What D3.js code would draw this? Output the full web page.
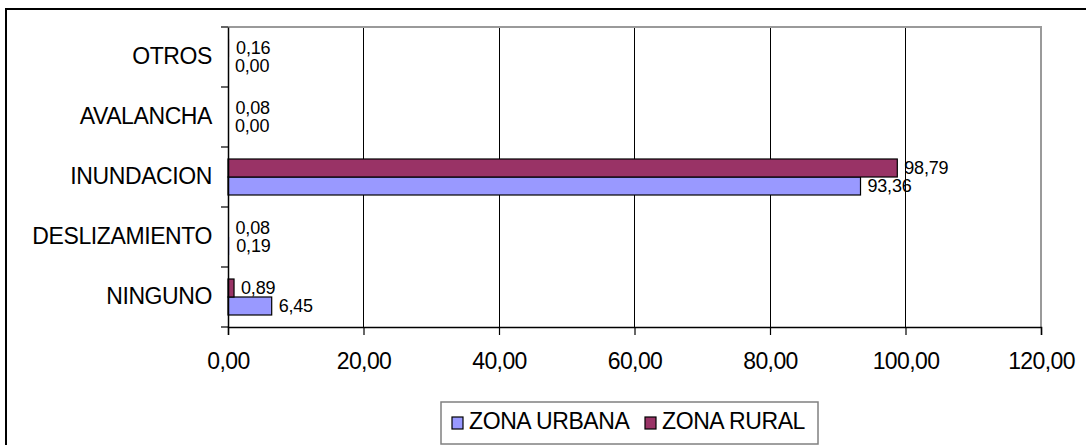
<!DOCTYPE html>
<html>
<head>
<meta charset="utf-8">
<script src="https://cdn.jsdelivr.net/npm/d3@7"></script>
<style>
  html, body { margin: 0; padding: 0; background: #fff; }
  svg { display: block; }
  text { font-family: "Liberation Sans", Arial, sans-serif; fill: #000; }
</style>
</head>
<body>
<svg id="chart" width="1086" height="445"></svg>
<script>
// ---- data ----
const categories = ["OTROS", "AVALANCHA", "INUNDACION", "DESLIZAMIENTO", "NINGUNO"];
const seriesNames = ["ZONA URBANA", "ZONA RURAL"];
const urbana = [0.00, 0.00, 93.36, 0.19, 6.45];
const rural  = [0.16, 0.08, 98.79, 0.08, 0.89];
const xTicks = [0, 20, 40, 60, 80, 100, 120];
const colors = { "ZONA URBANA": "#9999FF", "ZONA RURAL": "#993366" };

// ---- layout ----
const svg = d3.select("#chart");
const plot = { left: 228, top: 27, right: 1041, bottom: 327 };

const x = d3.scaleLinear().domain([0, 120]).range([plot.left, plot.right]);
const y = d3.scaleBand().domain(categories).range([plot.top, plot.bottom]).padding(0);
const inner = d3.scaleBand().domain(["ZONA RURAL", "ZONA URBANA"])
  .range([0, y.bandwidth()]).paddingInner(0).paddingOuter(2/3);

const fmt = v => d3.format(".2f")(v).replace(".", ",");

// outer frame
svg.append("rect").attr("x", 6).attr("y", 9).attr("width", 1200).attr("height", 600)
  .attr("fill", "none").attr("stroke", "#000").attr("stroke-width", 2);

// gridlines
svg.append("g").selectAll("line").data(xTicks.filter(t => t > 0 && t < 120)).join("line")
  .attr("x1", d => x(d)).attr("x2", d => x(d))
  .attr("y1", plot.top).attr("y2", plot.bottom)
  .attr("stroke", "#000").attr("stroke-width", 1).attr("shape-rendering", "crispEdges");

// plot border top & right (gray)
svg.append("path")
  .attr("d", `M${plot.left},${plot.top}H${plot.right}V${plot.bottom}`)
  .attr("fill", "none").attr("stroke", "#9a9a9a").attr("stroke-width", 2);

// data rows
const rows = categories.map((c, i) => ({ cat: c, vals: [
  { s: "ZONA URBANA", v: urbana[i] },
  { s: "ZONA RURAL", v: rural[i] }
]}));

const g = svg.append("g");
const groups = g.selectAll("g").data(rows).join("g")
  .attr("transform", d => `translate(0,${y(d.cat)})`);

groups.selectAll("rect").data(d => d.vals.filter(e => e.v > 0)).join("rect")
  .attr("x", x(0))
  .attr("y", d => inner(d.s))
  .attr("width", d => x(d.v) - x(0))
  .attr("height", inner.bandwidth())
  .attr("fill", d => colors[d.s])
  .attr("stroke", d => (x(d.v) - x(0)) < 3 ? "none" : "#000")
  .attr("stroke-width", 1.2);

groups.selectAll("text.val").data(d => d.vals).join("text")
  .attr("class", "val")
  .attr("x", d => x(d.v) + 7)
  .attr("y", d => inner(d.s) + inner.bandwidth() / 2)
  .attr("dy", "0.36em")
  .attr("font-size", 18)
  .attr("letter-spacing", "-0.2")
  .text(d => fmt(d.v));

// x axis
const xAxis = d3.axisBottom(x).tickValues(xTicks).tickSize(8).tickFormat(fmt);
const gx = svg.append("g").attr("transform", `translate(0,${plot.bottom})`).call(xAxis);
gx.select(".domain").attr("stroke", "#000").attr("stroke-width", 1.5);
gx.selectAll(".tick line").attr("stroke", "#000").attr("stroke-width", 1.2);
gx.selectAll(".tick text").attr("font-size", 23).attr("y", 26).attr("dy", "0.71em")
  .attr("letter-spacing", "-0.6")
  .attr("font-family", "Liberation Sans, Arial, sans-serif");

// y axis
const yAxis = d3.axisLeft(y).tickSize(0).tickPadding(16);
const gy = svg.append("g").attr("transform", `translate(${plot.left},0)`).call(yAxis);
gy.select(".domain").attr("stroke", "#000").attr("stroke-width", 1.5);
gy.selectAll(".tick text").attr("font-size", 23).attr("letter-spacing", "-0.4")
  .attr("font-family", "Liberation Sans, Arial, sans-serif");
// boundary ticks
svg.append("g").selectAll("line").data(categories.concat(["__end"])).join("line")
  .attr("x1", plot.left - 7).attr("x2", plot.left)
  .attr("y1", (d, i) => plot.top + i * y.step()).attr("y2", (d, i) => plot.top + i * y.step())
  .attr("stroke", "#000").attr("stroke-width", 1.2);

// legend
const leg = svg.append("g");
leg.append("rect").attr("x", 441).attr("y", 402).attr("width", 377).attr("height", 42)
  .attr("fill", "#fff").attr("stroke", "#808080").attr("stroke-width", 1.5);
const legX = [452, 645];
seriesNames.forEach((s, i) => {
  leg.append("rect").attr("x", legX[i]).attr("y", 417).attr("width", 11).attr("height", 12)
    .attr("fill", colors[s]).attr("stroke", "#000").attr("stroke-width", 1.2);
  leg.append("text").attr("x", legX[i] + 17).attr("y", 429)
    .attr("font-size", 23).attr("letter-spacing", "-0.4").text(s);
});
</script>
</body>
</html>
